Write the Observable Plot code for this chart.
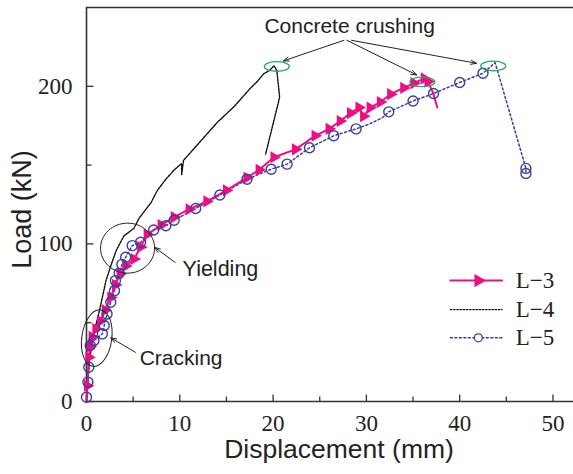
<!DOCTYPE html>
<html>
<head>
<meta charset="utf-8">
<script src="https://cdn.jsdelivr.net/npm/d3@7"></script>
<script src="https://cdn.jsdelivr.net/npm/@observablehq/plot@0.6"></script>
<style>
  html, body { margin: 0; padding: 0; background: #fff; }
  #chart svg { display: block; }
</style>
</head>
<body>
<div id="chart"></div>
<script>
// ---- data ----
const xTicks = [0, 10, 20, 30, 40, 50];
const xMinorTicks = [5, 15, 25, 35, 45];
const yTicks = [0, 100, 200];
const yMinorTicks = [50, 150];

const l3x = [0, 0.1, 0.25, 0.4, 0.6, 1.0, 1.5, 2.0, 2.6, 3.1, 3.6, 4.2, 5.1, 5.8, 6.5, 8.0, 9.4, 11.0, 12.9, 15.0, 17.2, 18.5, 20.1, 22.4, 24.5, 26.0, 27.2, 28.3, 29.2, 29.7, 30.4, 31.5, 32.6, 34.0, 35.1, 36.2, 36.6, 37.2, 37.6];
const l3y = [0, 10, 28, 35, 41, 46, 51, 58, 66, 74, 81, 86, 90.4, 98, 106, 112, 117, 122, 127, 134, 142, 147, 155, 160, 168.6, 173, 178, 183, 186.5, 181, 186.5, 190, 195, 199, 202, 205, 203, 195, 186.5];

const l4x = [0, 0.3, 0.86, 1.4, 2.1, 2.6, 3.2, 4.0, 5.1, 5.6, 6.5, 6.9, 7.6, 8.5, 9.4, 10.2, 10.2, 10.4, 11.3, 12.2, 13.1, 14.0, 14.9, 15.8, 16.7, 17.6, 18.3, 19.0, 19.6, 20.1, 20.4, 20.6, 20.7, 19.2];
const l4y = [0, 26, 45, 58, 77, 86, 96, 105, 110, 116, 123, 126, 134, 141, 147, 151, 144, 153, 159, 165, 171, 177, 182, 187, 193, 199, 203, 208, 210, 213, 210, 199, 193, 157];

const l5x = [0, 0, 0.15, 0.25, 0.4, 0.8, 1.7, 1.9, 2.2, 2.6, 3.0, 3.1, 3.5, 3.8, 4.2, 4.9, 5.8, 7.2, 8.5, 9.4, 11.7, 14.3, 17.2, 19.8, 21.5, 23.9, 26.5, 28.9, 30.3, 31.7, 32.4, 35.0, 37.2, 40.0, 42.5, 43.8, 47.1, 47.1];
const l5y = [0, 2.7, 12.3, 21.7, 35.5, 38.7, 42.9, 48.2, 55.5, 63, 70.3, 76.7, 81.3, 87, 91.5, 98.9, 101, 108.8, 111.5, 115, 122.5, 131, 141, 147.4, 150.6, 161, 168.6, 173, 176, 180, 183.8, 190.7, 195.4, 202.4, 208.3, 215, 147.9, 144.7];
const l5NoMarker = [0, 28, 29, 35];

const seriesNames = ["L\u22123", "L\u22124", "L\u22125"];

// ---- build tables ----
const L3 = l3x.map((x, i) => ({x, y: l3y[i]}));
const L4 = l4x.map((x, i) => ({x, y: l4y[i]}));
const L5 = l5x.map((x, i) => ({x, y: l5y[i], i}));
const L3markers = L3.filter((d, i) => i > 0 && i < L3.length - 2);
const L5markers = L5.filter(d => !l5NoMarker.includes(d.i));

// ---- custom symbols ----
const K = 0.5523;
const ellipse = (rx, ry) => ({
  draw(ctx) {
    ctx.moveTo(rx, 0);
    ctx.bezierCurveTo(rx, ry * K, rx * K, ry, 0, ry);
    ctx.bezierCurveTo(-rx * K, ry, -rx, ry * K, -rx, 0);
    ctx.bezierCurveTo(-rx, -ry * K, -rx * K, -ry, 0, -ry);
    ctx.bezierCurveTo(rx * K, -ry, rx, -ry * K, rx, 0);
    ctx.closePath();
  }
});
const vTick = (len) => ({draw(ctx) { ctx.moveTo(0, 0); ctx.lineTo(0, -len); }});
const hTick = (len) => ({draw(ctx) { ctx.moveTo(0, 0); ctx.lineTo(len, 0); }});

const MAG = "#ec0f84";
const BLUE = "#3a3f9f";
const AX = "#333";
const TXT = "#222";
const serif = "'Liberation Serif', 'DejaVu Serif', serif";
const sans = "'Liberation Sans', Arial, sans-serif";

const legendY = [76.7, 58.3, 40.4];

const chart = Plot.plot({
  width: 573,
  height: 474,
  marginLeft: 86,
  marginRight: 0,
  marginTop: 7,
  marginBottom: 73,
  style: {background: "#fff", overflow: "visible"},
  x: {domain: [0, 52.2], axis: null},
  y: {domain: [0, 250], axis: null},
  marks: [
    // tick labels (serif)
    Plot.text(xTicks, {x: d => d, y: 0, dy: 22, text: d => String(d), fontSize: 23, fontFamily: serif, fill: TXT}),
    Plot.text(yTicks, {x: 0, y: d => d, dx: -14, textAnchor: "end", text: d => String(d), fontSize: 23, fontFamily: serif, fill: TXT}),
    // inward ticks
    Plot.dot(xTicks, {x: d => d, y: 0, symbol: vTick(7), stroke: AX, strokeWidth: 1.3, fill: "none"}),
    Plot.dot(xMinorTicks, {x: d => d, y: 0, symbol: vTick(5), stroke: AX, strokeWidth: 1.3, fill: "none"}),
    Plot.dot(yTicks, {x: 0, y: d => d, symbol: hTick(7), stroke: AX, strokeWidth: 1.3, fill: "none"}),
    Plot.dot(yMinorTicks, {x: 0, y: d => d, symbol: hTick(5), stroke: AX, strokeWidth: 1.3, fill: "none"}),
    // frame (left, bottom, top)
    Plot.ruleX([0], {stroke: AX, strokeWidth: 1.6}),
    Plot.ruleY([0, 250], {stroke: AX, strokeWidth: 1.6}),
    // axis titles
    Plot.text(["Displacement (mm)"], {frameAnchor: "bottom", dx: 9, dy: 56, fontSize: 26.5, fontFamily: sans, fill: TXT}),
    Plot.text(["Load (kN)"], {x: 0, y: 121.8, rotate: -90, dx: -64, fontSize: 27, fontFamily: sans, fill: TXT}),

    // series
    Plot.line(L4, {x: "x", y: "y", stroke: "#111", strokeWidth: 1.4, strokeDasharray: "2 1.2"}),
    Plot.line(L5, {x: "x", y: "y", stroke: BLUE, strokeWidth: 1.5, strokeDasharray: "2 2.5"}),
    Plot.line(L3, {x: "x", y: "y", stroke: MAG, strokeWidth: 2}),
    Plot.dot(L3markers, {x: "x", y: "y", symbol: "triangle", rotate: 90, r: 4.5, fill: MAG, stroke: "none"}),
    Plot.dot(L5markers, {x: "x", y: "y", r: 5, stroke: BLUE, strokeWidth: 1.4, fill: "none"}),

    // ellipses (annotations)
    Plot.dot([[20.4, 212.6], [36.0, 202.8], [43.6, 212.9]], {x: "0", y: "1", symbol: ellipse(12.5, 4.8), stroke: "#2aa866", strokeWidth: 1.3, fill: "none"}),
    Plot.dot([[1.1, 40.2]], {x: "0", y: "1", symbol: ellipse(15, 28.5), rotate: 8, stroke: "#222", strokeWidth: 1, fill: "none"}),
    Plot.dot([[4.4, 97.3]], {x: "0", y: "1", symbol: ellipse(27, 25), stroke: "#222", strokeWidth: 1, fill: "none"}),

    // arrows
    Plot.arrow([
      {x1: 27.6, y1: 229.2, x2: 21.1, y2: 216.1},
      {x1: 27.9, y1: 229.2, x2: 35.4, y2: 207.2},
      {x1: 28.4, y1: 229.2, x2: 41.8, y2: 214.6},
      {x1: 9.5, y1: 88.3, x2: 7.3, y2: 97.8},
      {x1: 5.25, y1: 31.2, x2: 2.6, y2: 40.4}
    ], {x1: "x1", y1: "y1", x2: "x2", y2: "y2", stroke: "#222", strokeWidth: 1, headLength: 9, headAngle: 40}),

    // annotation texts
    Plot.text(["Concrete crushing"], {x: 28.2, y: 233.8, lineAnchor: "bottom", fontSize: 21, fontFamily: sans, fill: TXT}),
    Plot.text(["Yielding"], {x: 10.3, y: 84.3, textAnchor: "start", fontSize: 21.5, fontFamily: sans, fill: TXT}),
    Plot.text(["Cracking"], {x: 5.7, y: 27.2, textAnchor: "start", fontSize: 21, fontFamily: sans, fill: TXT}),

    // legend
    Plot.line([[39.0, legendY[0]], [44.55, legendY[0]]], {stroke: MAG, strokeWidth: 2}),
    Plot.dot([[42.0, legendY[0]]], {symbol: "triangle", rotate: 90, r: 5, fill: MAG, stroke: "none"}),
    Plot.line([[39.0, legendY[1]], [44.55, legendY[1]]], {stroke: "#111", strokeWidth: 1.3, strokeDasharray: "1.6 1.6"}),
    Plot.line([[39.0, legendY[2]], [44.55, legendY[2]]], {stroke: BLUE, strokeWidth: 1.5, strokeDasharray: "2 2.5"}),
    Plot.dot([[42.0, legendY[2]]], {r: 4, stroke: BLUE, strokeWidth: 1.3, fill: "#fff"}),
    Plot.text(seriesNames, {x: 46.0, y: (d, i) => legendY[i], textAnchor: "start", fontSize: 23, fontFamily: serif, fill: TXT})
  ]
});
document.getElementById("chart").appendChild(chart);
</script>
</body>
</html>
